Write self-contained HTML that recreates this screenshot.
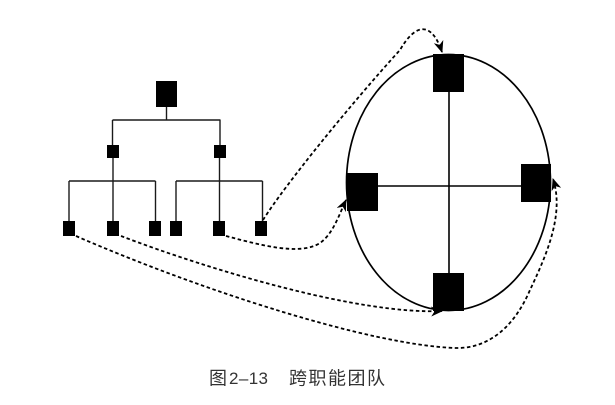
<!DOCTYPE html>
<html>
<head>
<meta charset="utf-8">
<style>
  html,body{margin:0;padding:0;background:#fff;}
  body{width:615px;height:405px;overflow:hidden;}
  svg{display:block;}
</style>
</head>
<body>
<svg width="615" height="405" viewBox="0 0 615 405" xmlns="http://www.w3.org/2000/svg">
  <defs>
    <marker id="ah" viewBox="0 0 12 10" refX="11" refY="5" markerWidth="12" markerHeight="10" markerUnits="userSpaceOnUse" orient="auto">
      <path d="M0,0 L12,5 L0,10 L3.5,5 z" fill="#000"/>
    </marker>
  </defs>

  <!-- Tree lines -->
  <g stroke="#1a1a1a" stroke-width="1.4" fill="none">
    <line x1="166.5" y1="107" x2="166.5" y2="120"/>
    <line x1="112.5" y1="120" x2="220.5" y2="120"/>
    <line x1="112.5" y1="120" x2="112.5" y2="145"/>
    <line x1="220" y1="120" x2="220" y2="145"/>
    <line x1="69" y1="181" x2="155.5" y2="181"/>
    <line x1="176" y1="181" x2="262.5" y2="181"/>
    <line x1="113" y1="158" x2="113" y2="221"/>
    <line x1="219.5" y1="158" x2="219.5" y2="221"/>
    <line x1="69" y1="181" x2="69" y2="221"/>
    <line x1="155.5" y1="181" x2="155.5" y2="221"/>
    <line x1="176" y1="181" x2="176" y2="221"/>
    <line x1="262.5" y1="181" x2="262.5" y2="221"/>
  </g>

  <!-- Tree boxes -->
  <g fill="#000">
    <rect x="156" y="81" width="21" height="26"/>
    <rect x="107" y="145" width="12" height="13"/>
    <rect x="214" y="145" width="12" height="13"/>
    <rect x="63" y="221" width="12" height="15"/>
    <rect x="107" y="221" width="12" height="15"/>
    <rect x="149" y="221" width="12" height="15"/>
    <rect x="170" y="221" width="12" height="15"/>
    <rect x="213" y="221" width="12" height="15"/>
    <rect x="255" y="221" width="12" height="15"/>
  </g>

  <!-- Ellipse team -->
  <ellipse cx="448.5" cy="182.5" rx="102" ry="128" fill="none" stroke="#000" stroke-width="1.7"/>
  <g stroke="#000" stroke-width="1.6">
    <line x1="449" y1="92" x2="449" y2="273"/>
    <line x1="378" y1="186" x2="521" y2="186"/>
  </g>
  <g fill="#000">
    <rect x="433" y="54" width="31" height="38"/>
    <rect x="347" y="173" width="31" height="38"/>
    <rect x="521" y="164" width="30" height="38"/>
    <rect x="433" y="273" width="31" height="38"/>
  </g>

  <!-- Dashed connectors -->
  <g fill="none" stroke="#000" stroke-width="1.8" stroke-dasharray="3.5 2.6">
    <path d="M263,220 C285,185 350,105 400,50 C416,22 432,22 442,52" marker-end="url(#ah)"/>
    <path d="M226,236 C260,245 300,256 320,243 C333,234 339,215 346,200" marker-end="url(#ah)"/>
    <path d="M121,236 C210,270 360,315 442,311" marker-end="url(#ah)"/>
    <path d="M76,236 C200,290 370,345 455,348 C490,349 515,325 530,290 C545,258 565,215 553,179" marker-end="url(#ah)"/>
  </g>

  <!-- Caption -->
  <g font-family="'Liberation Sans','Noto Sans CJK SC',sans-serif" fill="#333">
    <text x="209" y="384.5" font-size="18">图</text>
    <text x="229" y="384" font-size="17" textLength="39" lengthAdjust="spacing">2–13</text>
    <text x="289" y="384.5" font-size="18" textLength="96" lengthAdjust="spacing">跨职能团队</text>
  </g>
</svg>
</body>
</html>
